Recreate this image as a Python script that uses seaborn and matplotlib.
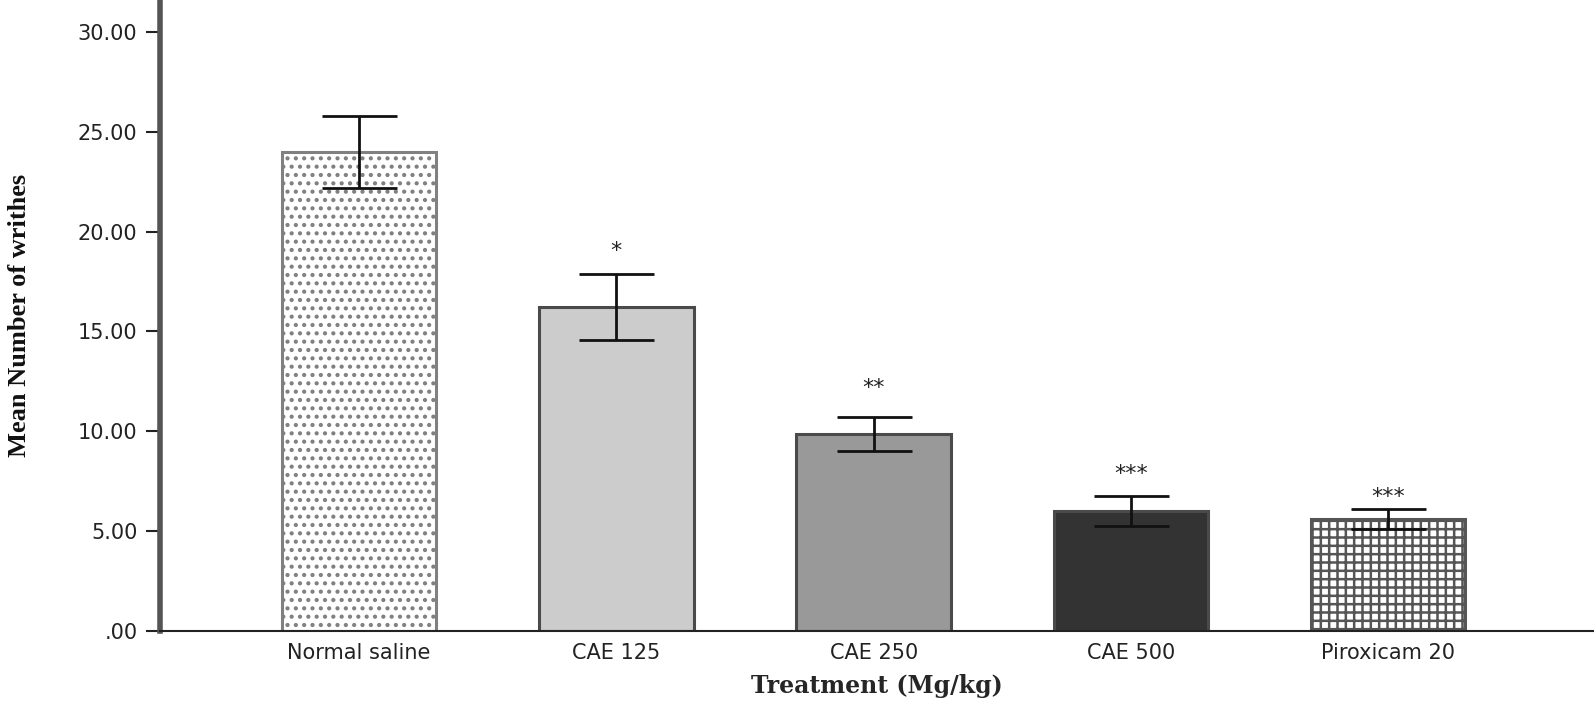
import pandas as pd
import matplotlib.pyplot as plt
import seaborn as sns

# Values
treatments = ["Normal saline", "CAE 125", "CAE 250", "CAE 500", "Piroxicam 20"]
mean_writhes = [24.0, 16.2, 9.85, 6.0, 5.6]
sem_writhes = [1.8, 1.66, 0.84, 0.74, 0.5]
stars = ["", "*", "**", "***", "***"]
star_y = [0, 18.5, 11.65, 7.35, 6.2]

face_colors = ["#ffffff", "#cccccc", "#999999", "#333333", "#ffffff"]
edge_colors = ["#808080", "#4a4a4a", "#4a4a4a", "#4a4a4a", "#555555"]
hatches = ["..", "", "", "", "++"]

df = pd.DataFrame({"treatment": treatments, "mean": mean_writhes, "sem": sem_writhes})

sns.set_style("white")
plt.rcParams["hatch.linewidth"] = 1.8
plt.rcParams["font.family"] = ["DejaVu Sans"]

fig = plt.figure(figsize=(15.94, 7.1), dpi=100)
ax = fig.add_axes([0.1002, 0.1117, 0.8998, 0.8883])

sns.barplot(data=df, x="treatment", y="mean", hue="treatment", palette=face_colors,
            errorbar=None, width=0.6, legend=False, ax=ax, saturation=1)

for patch, h, ec in zip(ax.patches, hatches, edge_colors):
    patch.set_edgecolor(ec)
    patch.set_linewidth(2.2)
    if h:
        patch.set_hatch(h)

# Error bars (SEM)
ax.errorbar(range(len(treatments)), df["mean"], yerr=df["sem"], fmt="none",
            ecolor="#111111", elinewidth=2, capsize=27, capthick=2)

# Significance marks
for i, s in enumerate(stars):
    if s:
        ax.text(i, star_y[i], s, ha="center", va="bottom", fontsize=16, color="#222222")

ax.set_xlim(-0.775, 4.8)
ax.set_ylim(0, 31.6)
ax.set_yticks([0, 5, 10, 15, 20, 25, 30])
ax.set_yticklabels([".00", "5.00", "10.00", "15.00", "20.00", "25.00", "30.00"])

for side in ["top", "right"]:
    ax.spines[side].set_visible(False)
ax.spines["left"].set_color("#555555")
ax.spines["left"].set_linewidth(4)
ax.spines["bottom"].set_color("#222222")
ax.spines["bottom"].set_linewidth(1.5)

ax.tick_params(axis="y", direction="out", length=10, width=1.5, color="#222222",
               labelsize=15, pad=6, left=True, labelcolor="#222222")
ax.tick_params(axis="x", length=0, labelsize=15, pad=9, labelcolor="#222222")

ax.set_xlabel("Treatment (Mg/kg)", fontsize=17, fontweight="bold",
              family=["DejaVu Serif"], labelpad=8)
ax.set_ylabel("Mean Number of writhes", fontsize=19, fontweight="bold",
              family=["Liberation Serif"], labelpad=34, color="#111111")

fig.savefig("out.png", dpi=100)
